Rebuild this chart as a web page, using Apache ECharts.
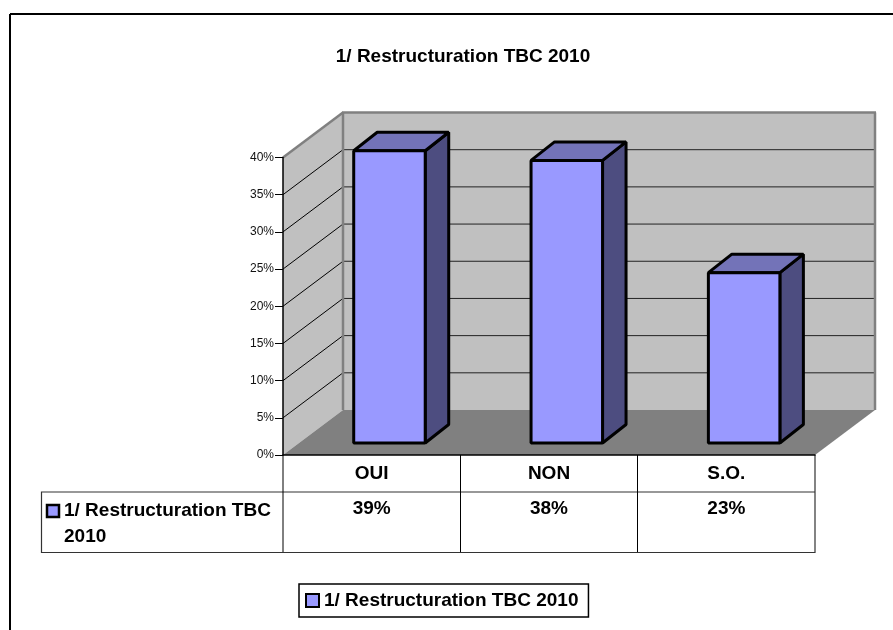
<!DOCTYPE html>
<html lang="fr">
<head>
<meta charset="UTF-8">
<title>1/ Restructuration TBC 2010</title>
<script src="https://cdn.jsdelivr.net/npm/echarts@6/dist/echarts.min.js"></script>
<style>
html, body { margin: 0; padding: 0; background: #fff; }
#main { width: 893px; height: 630px; }
</style>
</head>
<body>
<div id="main"></div>
<script>
var titleText = '1/ Restructuration TBC 2010';
var categories = ['OUI', 'NON', 'S.O.'];
var barValues = [39.3, 38, 22.9];
var tableLabels = ['39%', '38%', '23%'];
var yTicks = [0, 5, 10, 15, 20, 25, 30, 35, 40];

// decalage de la perspective
var wallDx = 60, wallDy = 45;
var barShiftX = 17.8, barShiftY = 12, barWidth = 71.5, barDx = 23.5, barDy = 18.5;
var fontName = '"Liberation Sans", Arial, sans-serif';

function poly(points, fill, stroke, width) {
    return {
        type: 'polygon',
        shape: { points: points },
        style: { fill: fill, stroke: stroke, lineWidth: width || 0, lineJoin: 'bevel' }
    };
}
function line(x1, y1, x2, y2, color, width) {
    return {
        type: 'line',
        shape: { x1: x1, y1: y1, x2: x2, y2: y2 },
        style: { stroke: color, lineWidth: width, fill: null }
    };
}

function renderWalls(params, api) {
    var o = api.coord([0, 0]);
    var left = params.coordSys.x, right = left + params.coordSys.width;
    var y0 = o[1], yTop = api.coord([0, 40])[1];
    var kids = [
        poly([[left + wallDx, yTop - wallDy], [right + wallDx, yTop - wallDy], [right + wallDx, y0 - wallDy], [left + wallDx, y0 - wallDy]], '#c0c0c0'),
        poly([[left, yTop], [left + wallDx, yTop - wallDy], [left + wallDx, y0 - wallDy], [left, y0]], '#c0c0c0'),
        poly([[left, y0], [right, y0], [right + wallDx, y0 - wallDy], [left + wallDx, y0 - wallDy]], '#808080')
    ];
    yTicks.forEach(function (t) {
        if (t === 0 || t === 40) return;
        var y = api.coord([0, t])[1];
        kids.push(line(left, y, left + wallDx, y - wallDy, '#000', 1));
        kids.push(line(left + wallDx, y - wallDy, right + wallDx, y - wallDy, '#222', 1));
    });
    kids.push(line(left, yTop, left + wallDx, yTop - wallDy, '#808080', 2.5));
    kids.push(line(left + wallDx - 1, yTop - wallDy, right + wallDx + 1, yTop - wallDy, '#808080', 2.5));
    kids.push(line(left + wallDx, yTop - wallDy, left + wallDx, y0 - wallDy, '#808080', 2.5));
    kids.push(line(right + wallDx, yTop - wallDy, right + wallDx, y0 - wallDy, '#808080', 2.5));
    return { type: 'group', children: kids };
}

function renderBar(params, api) {
    var i = api.value(0);
    var top = api.coord([i, api.value(1)]);
    var base = api.coord([i, 0]);
    var x1 = top[0] + barShiftX - barWidth / 2, x2 = x1 + barWidth;
    var yT = top[1] - barShiftY, yB = base[1] - barShiftY;
    var lw = 3;
    return {
        type: 'group',
        children: [
            poly([[x2, yT], [x2 + barDx, yT - barDy], [x2 + barDx, yB - barDy], [x2, yB]], '#4d4d80', '#000', lw),
            poly([[x1, yT], [x1 + barDx, yT - barDy], [x2 + barDx, yT - barDy], [x2, yT]], '#7373b8', '#000', lw),
            poly([[x1, yT], [x2, yT], [x2, yB], [x1, yB]], '#9999ff', '#000', lw),
            {
                type: 'text',
                style: {
                    x: top[0], y: base[1] + 54, text: tableLabels[i],
                    font: 'bold 19px ' + fontName, fill: '#000',
                    textAlign: 'center', textVerticalAlign: 'middle'
                }
            }
        ]
    };
}

var option = {
    animation: false,
    backgroundColor: '#fff',
    title: {
        text: titleText,
        left: 458, top: 42, textAlign: 'center',
        textStyle: { fontFamily: fontName, fontSize: 19, fontWeight: 'bold', color: '#000' }
    },
    legend: {
        data: [titleText],
        left: 299, top: 584,
        padding: [7, 10, 7, 6],
        itemWidth: 13, itemHeight: 13, itemGap: 0,
        icon: 'rect',
        borderColor: '#000', borderWidth: 1.5,
        itemStyle: { color: '#9999ff', borderColor: '#000', borderWidth: 2 },
        textStyle: { fontFamily: fontName, fontSize: 19, fontWeight: 'bold', color: '#000', padding: [0, 0, 0, 0] }
    },
    grid: { left: 283, right: 78, top: 157.5, bottom: 175 },
    xAxis: {
        type: 'category',
        data: categories,
        z: 5,
        axisTick: { show: false },
        axisLine: { lineStyle: { color: '#000', width: 1.5 } },
        axisLabel: { margin: 9, fontFamily: fontName, fontSize: 19, fontWeight: 'bold', color: '#000' }
    },
    yAxis: {
        type: 'value',
        min: 0, max: 40, interval: 5,
        z: 5,
        splitLine: { show: false },
        axisLine: { show: true, lineStyle: { color: '#000', width: 1.5 } },
        axisTick: { show: true, length: 8, lineStyle: { color: '#000', width: 1 } },
        axisLabel: {
            margin: 9, fontFamily: fontName, fontSize: 12, color: '#111', padding: [2, 0, 0, 0],
            formatter: function (v) { return v + '%'; }
        }
    },
    series: [
        { type: 'custom', name: 'walls', renderItem: renderWalls, data: [[0, 0]], clip: false, silent: true, z: 1 },
        {
            type: 'custom', name: titleText, renderItem: renderBar, clip: false, z: 2,
            encode: { x: 0, y: 1 },
            data: barValues.map(function (v, i) { return [i, v]; })
        }
    ],
    graphic: [
        // cadre exterieur
        { type: 'line', shape: { x1: 10, y1: 14, x2: 893, y2: 14 }, style: { stroke: '#000', lineWidth: 2 } },
        { type: 'line', shape: { x1: 10, y1: 14, x2: 10, y2: 630 }, style: { stroke: '#000', lineWidth: 2 } },
        // tableau de donnees
        { type: 'polyline', shape: { points: [[283, 492], [41.5, 492], [41.5, 552.5], [815, 552.5], [815, 455]] }, style: { stroke: '#333', lineWidth: 1.2, fill: null } },
        { type: 'line', shape: { x1: 283, y1: 492, x2: 815, y2: 492 }, style: { stroke: '#333', lineWidth: 1.2 } },
        { type: 'line', shape: { x1: 283, y1: 455, x2: 283, y2: 552 }, style: { stroke: '#000', lineWidth: 1 } },
        { type: 'line', shape: { x1: 460.5, y1: 455, x2: 460.5, y2: 552 }, style: { stroke: '#000', lineWidth: 1 } },
        { type: 'line', shape: { x1: 637.5, y1: 455, x2: 637.5, y2: 552 }, style: { stroke: '#000', lineWidth: 1 } },
        { type: 'rect', shape: { x: 47, y: 505, width: 12, height: 12 }, style: { fill: '#9999ff', stroke: '#000', lineWidth: 2.5 } },
        { type: 'text', style: { x: 64, y: 511, text: '1/ Restructuration TBC', font: 'bold 19px ' + fontName, fill: '#000', textVerticalAlign: 'middle' } },
        { type: 'text', style: { x: 64, y: 537, text: '2010', font: 'bold 19px ' + fontName, fill: '#000', textVerticalAlign: 'middle' } }
    ]
};

var myChart = echarts.init(document.getElementById('main'), null, { renderer: 'canvas' });
myChart.setOption(option);
</script>
</body>
</html>
